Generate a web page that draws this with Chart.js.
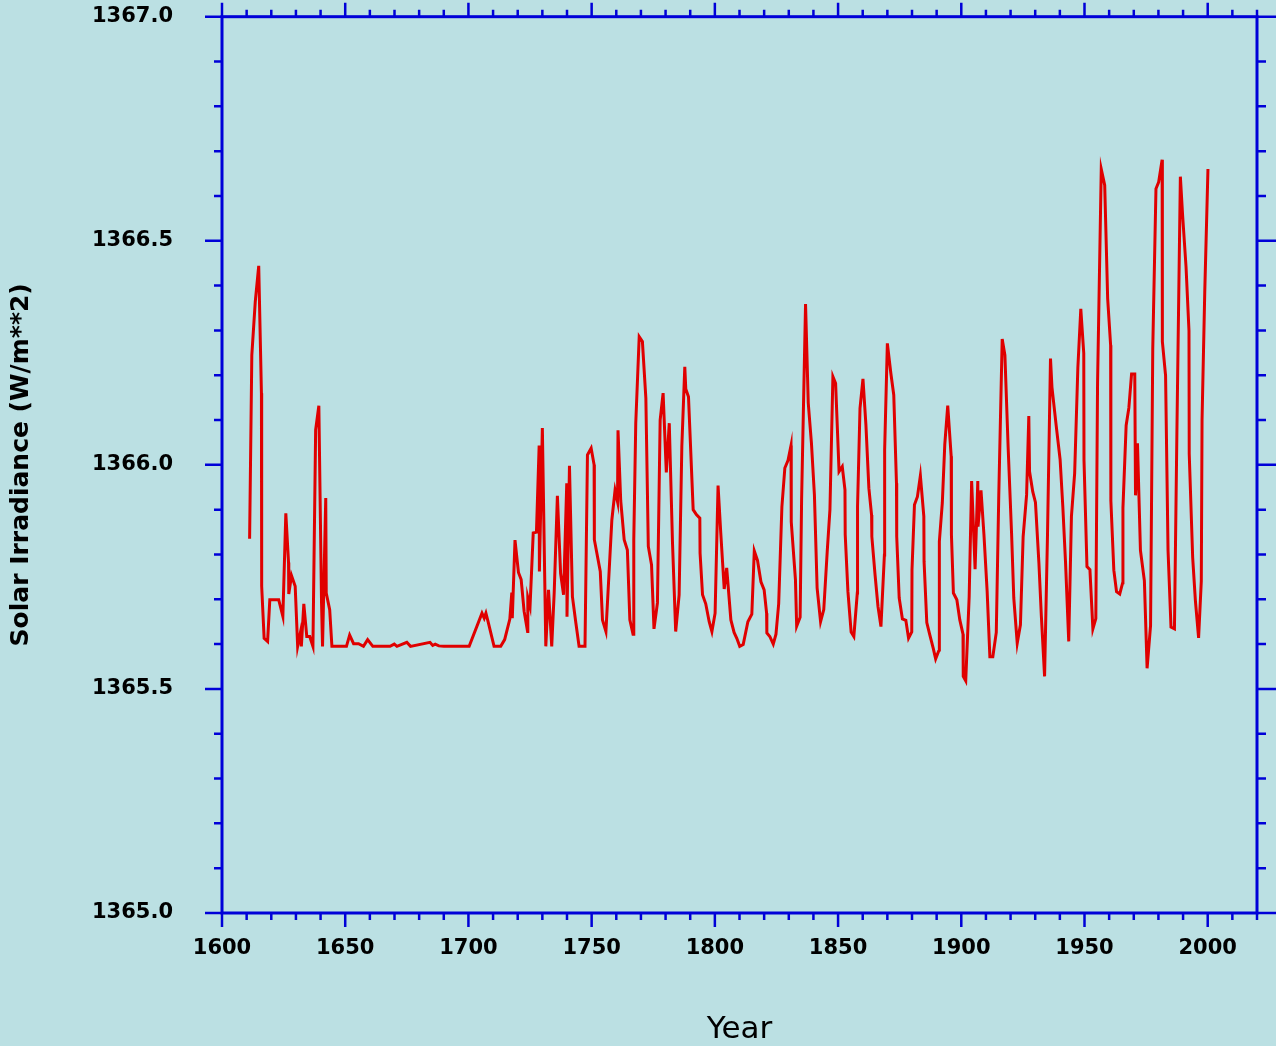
<!DOCTYPE html>
<html>
<head>
<meta charset="utf-8">
<title>Solar Irradiance</title>
<script src="https://cdn.jsdelivr.net/npm/chart.js@4.4.1/dist/chart.umd.min.js"></script>
<style>
  html, body { margin: 0; padding: 0; background: #bbe0e3; overflow: hidden; }
  #wrap { width: 1276px; height: 1046px; position: relative; }
</style>
</head>
<body>
<div id="wrap"><canvas id="solar-chart"></canvas></div>
<script>
// values (year, W/m**2)
const years = [
  1611.2, 1612.1, 1613.5, 1614.9, 1616.0, 1616.1, 1617.1, 1618.5, 1619.4, 1623.0,
  1624.7, 1625.9, 1627.0, 1627.1, 1628.2, 1629.7, 1630.7, 1631.8, 1632.2, 1633.2,
  1634.4, 1635.6, 1636.9, 1638.0, 1639.3, 1640.4, 1640.8, 1642.1, 1642.3, 1643.7,
  1644.6, 1650.5, 1651.8, 1653.4, 1655.4, 1657.4, 1659.1, 1661.2, 1668.2, 1669.9,
  1671.0, 1675.0, 1676.5, 1684.4, 1685.5, 1686.5, 1688.0, 1690.0, 1700.3, 1705.5,
  1706.4, 1707.1, 1707.9, 1710.4, 1713.1, 1714.7, 1716.8, 1717.6, 1717.8, 1718.9,
  1720.3, 1721.4, 1722.6, 1724.0, 1724.1, 1725.0, 1726.3, 1727.6, 1728.7, 1728.8,
  1730.0, 1731.4, 1732.5, 1733.8, 1734.8, 1736.1, 1737.4, 1738.6, 1739.9, 1740.0,
  1741.0, 1742.2, 1743.6, 1744.9, 1747.3, 1748.3, 1749.8, 1751.0, 1751.1, 1753.5,
  1754.4, 1755.8, 1758.2, 1759.5, 1760.5, 1760.7, 1761.8, 1763.2, 1764.5, 1765.5,
  1766.8, 1767.1, 1767.9, 1769.3, 1770.6, 1772.0, 1773.0, 1774.3, 1775.3, 1776.7,
  1777.8, 1779.0, 1780.3, 1781.5, 1782.8, 1784.1, 1785.5, 1786.6, 1787.8, 1788.2,
  1789.3, 1791.2, 1792.5, 1793.9, 1794.0, 1795.0, 1796.3, 1797.7, 1798.8, 1800.1,
  1801.3, 1802.4, 1803.8, 1804.8, 1806.5, 1807.8, 1808.9, 1810.1, 1811.5, 1813.4,
  1815.0, 1816.0, 1817.3, 1818.7, 1820.0, 1821.0, 1821.1, 1822.3, 1823.7, 1824.8,
  1825.9, 1827.2, 1828.4, 1829.7, 1830.9, 1831.0, 1832.7, 1833.2, 1834.6, 1835.2,
  1836.8, 1837.9, 1839.2, 1840.4, 1841.5, 1842.9, 1844.2, 1845.6, 1846.7, 1847.9,
  1849.0, 1850.4, 1851.7, 1852.8, 1852.9, 1854.0, 1855.3, 1856.4, 1857.8, 1857.9,
  1858.9, 1860.1, 1861.3, 1862.5, 1863.6, 1863.7, 1865.0, 1866.2, 1867.4, 1868.8,
  1868.9, 1870.0, 1871.4, 1872.6, 1873.7, 1873.8, 1874.8, 1876.1, 1877.5, 1878.6,
  1879.9, 1880.0, 1881.0, 1882.2, 1883.4, 1884.8, 1884.9, 1886.0, 1887.2, 1888.6,
  1889.6, 1891.0, 1891.1, 1892.3, 1893.3, 1894.5, 1895.9, 1896.0, 1896.8, 1898.2,
  1899.4, 1900.7, 1900.8, 1901.8, 1903.2, 1904.2, 1905.6, 1906.7, 1906.8, 1908.0,
  1909.2, 1910.5, 1911.6, 1912.8, 1914.2, 1915.2, 1916.6, 1917.7, 1919.0, 1920.4,
  1921.3, 1922.7, 1924.0, 1925.1, 1926.5, 1927.4, 1927.7, 1929.0, 1930.1, 1931.5,
  1932.5, 1933.8, 1935.0, 1936.2, 1936.8, 1938.5, 1940.1, 1941.2, 1942.3, 1943.6,
  1944.7, 1946.0, 1947.3, 1948.5, 1949.7, 1949.8, 1951.0, 1952.2, 1953.4, 1954.6,
  1955.3, 1956.8, 1958.2, 1959.4, 1960.6, 1960.7, 1961.9, 1963.0, 1964.3, 1965.5,
  1965.6, 1966.9, 1968.0, 1969.1, 1970.4, 1970.7, 1971.5, 1972.7, 1974.3, 1975.4,
  1976.8, 1977.7, 1979.0, 1980.1, 1981.5, 1981.6, 1982.9, 1983.9, 1985.1, 1986.5,
  1987.5, 1988.9, 1989.8, 1991.2, 1992.4, 1992.5, 1993.9, 1995.0, 1996.3, 1997.4,
  1997.7, 1998.8, 2000.1
];
const irradiance = [
  1365.835, 1366.245, 1366.364, 1366.444, 1366.160, 1365.729, 1365.613, 1365.606, 1365.699, 1365.699,
  1365.662, 1365.892, 1365.782, 1365.712, 1365.753, 1365.729, 1365.595, 1365.625, 1365.595, 1365.690,
  1365.617, 1365.617, 1365.595, 1366.078, 1366.132, 1365.690, 1365.595, 1365.926, 1365.714, 1365.677,
  1365.595, 1365.595, 1365.620, 1365.601, 1365.601, 1365.595, 1365.610, 1365.595, 1365.595, 1365.600,
  1365.595, 1365.604, 1365.595, 1365.604, 1365.597, 1365.600, 1365.596, 1365.595, 1365.595, 1365.669,
  1365.658, 1365.669, 1365.652, 1365.595, 1365.595, 1365.610, 1365.656, 1365.715, 1365.658, 1365.832,
  1365.760, 1365.744, 1365.673, 1365.628, 1365.704, 1365.684, 1365.848, 1365.850, 1366.043, 1365.762,
  1366.082, 1365.595, 1365.721, 1365.595, 1365.714, 1365.931, 1365.758, 1365.710, 1365.959, 1365.661,
  1365.998, 1365.706, 1365.647, 1365.595, 1365.595, 1366.022, 1366.037, 1366.000, 1365.833, 1365.762,
  1365.654, 1365.628, 1365.877, 1365.943, 1365.918, 1366.077, 1365.920, 1365.833, 1365.810, 1365.654,
  1365.622, 1365.833, 1366.093, 1366.286, 1366.275, 1366.149, 1365.818, 1365.777, 1365.634, 1365.692,
  1366.100, 1366.160, 1365.983, 1366.093, 1365.828, 1365.628, 1365.710, 1366.041, 1366.219, 1366.169,
  1366.152, 1365.900, 1365.889, 1365.881, 1365.803, 1365.710, 1365.690, 1365.650, 1365.628, 1365.669,
  1365.954, 1365.848, 1365.723, 1365.770, 1365.654, 1365.626, 1365.613, 1365.595, 1365.599, 1365.650,
  1365.667, 1365.808, 1365.787, 1365.739, 1365.721, 1365.669, 1365.625, 1365.617, 1365.600, 1365.622,
  1365.690, 1365.906, 1365.993, 1366.010, 1366.043, 1365.873, 1365.744, 1365.640, 1365.660, 1365.922,
  1366.359, 1366.138, 1366.048, 1365.933, 1365.725, 1365.650, 1365.677, 1365.807, 1365.900, 1366.197,
  1366.182, 1365.985, 1365.996, 1365.944, 1365.844, 1365.717, 1365.627, 1365.617, 1365.714, 1365.907,
  1366.126, 1366.192, 1366.089, 1365.948, 1365.888, 1365.840, 1365.755, 1365.684, 1365.639, 1365.799,
  1366.033, 1366.271, 1366.205, 1366.156, 1365.959, 1365.840, 1365.703, 1365.656, 1365.653, 1365.613,
  1365.627, 1365.766, 1365.911, 1365.929, 1365.976, 1365.885, 1365.784, 1365.648, 1365.621, 1365.591,
  1365.567, 1365.587, 1365.829, 1365.915, 1366.045, 1366.132, 1366.019, 1365.844, 1365.714, 1365.699,
  1365.654, 1365.622, 1365.528, 1365.518, 1365.706, 1365.964, 1365.767, 1365.964, 1365.862, 1365.943,
  1365.844, 1365.717, 1365.572, 1365.572, 1365.626, 1365.929, 1366.281, 1366.245, 1366.041, 1365.848,
  1365.703, 1365.602, 1365.643, 1365.840, 1365.933, 1366.109, 1365.985, 1365.940, 1365.916, 1365.781,
  1365.662, 1365.528, 1365.848, 1366.237, 1366.173, 1366.088, 1366.012, 1365.907, 1365.783, 1365.606,
  1365.885, 1365.981, 1366.216, 1366.348, 1366.249, 1366.010, 1365.773, 1365.766, 1365.634, 1365.657,
  1366.183, 1366.660, 1366.624, 1366.371, 1366.267, 1365.920, 1365.765, 1365.717, 1365.712, 1365.737,
  1365.904, 1366.088, 1366.127, 1366.203, 1366.203, 1365.932, 1366.048, 1365.809, 1365.741, 1365.546,
  1365.641, 1366.259, 1366.616, 1366.631, 1366.681, 1366.275, 1366.199, 1365.809, 1365.638, 1365.634,
  1366.076, 1366.643, 1366.558, 1366.442, 1366.299, 1366.024, 1365.793, 1365.697, 1365.614, 1365.741,
  1366.100, 1366.386, 1366.660
];
const xTickLabels = [1600, 1650, 1700, 1750, 1800, 1850, 1900, 1950, 2000];
const yTickLabels = ['1365.0', '1365.5', '1366.0', '1366.5', '1367.0'];

const axisBlue = '#0000d8';
const tickFont = { family: 'DejaVu Sans', size: 21, weight: 'bold' };

// box round the plot, with long ticks every 50 yrs / 0.5 and short ones in between
const frameTicks = {
  id: 'frameTicks',
  afterDatasetsDraw(chart) {
    const { ctx, chartArea: a, scales: { x, y } } = chart;
    ctx.save();
    ctx.strokeStyle = axisBlue;
    ctx.lineWidth = 2.5;
    ctx.beginPath();
    for (let v = 1600; v <= 2020; v += 10) {
      const px = x.getPixelForValue(v);
      const len = v % 50 === 0 ? 14 : 7;
      ctx.moveTo(px, a.bottom); ctx.lineTo(px, a.bottom + len);
      ctx.moveTo(px, a.top); ctx.lineTo(px, a.top - len);
    }
    for (let i = 0; i <= 20; i++) {
      const py = y.getPixelForValue(1365 + i / 10);
      const major = i % 5 === 0;
      ctx.moveTo(a.left, py); ctx.lineTo(a.left - (major ? 17 : 8), py);
      ctx.moveTo(a.right, py); ctx.lineTo(a.right + (major ? 19 : 9), py);
    }
    ctx.stroke();
    ctx.lineWidth = 3;
    ctx.strokeRect(a.left, a.top, a.right - a.left, a.bottom - a.top);
    ctx.restore();
  }
};

new Chart(document.getElementById('solar-chart'), {
  type: 'line',
  data: {
    datasets: [{
      label: 'Solar Irradiance',
      data: years.map((yr, i) => ({ x: yr, y: irradiance[i] })),
      borderColor: '#e00000',
      borderWidth: 3,
      pointRadius: 0,
      tension: 0,
      fill: false
    }]
  },
  options: {
    responsive: true,
    maintainAspectRatio: false,
    animation: false,
    devicePixelRatio: 1,
    layout: { padding: { top: 16.7, right: 19, left: 0, bottom: 0 } },
    plugins: {
      legend: { display: false },
      tooltip: { enabled: false }
    },
    scales: {
      x: {
        type: 'linear',
        min: 1600,
        max: 2020,
        afterBuildTicks: (s) => { s.ticks = xTickLabels.map(v => ({ value: v })); },
        afterFit: (s) => { s.height = 133; },
        // tick marks themselves come from the plugin; tickLength only spaces the labels
        grid: { display: false, drawTicks: true, tickLength: 23 },
        border: { display: false },
        ticks: {
          padding: 0,
          color: '#000',
          font: tickFont,
          maxRotation: 0,
          autoSkip: false,
          callback: (v) => String(v)
        },
        title: {
          display: true,
          text: 'Year',
          color: '#000',
          font: { family: 'DejaVu Sans', size: 31, lineHeight: 1 },
          padding: { top: 0, bottom: 1 }
        }
      },
      y: {
        type: 'linear',
        min: 1365,
        max: 1367,
        afterBuildTicks: (s) => { s.ticks = yTickLabels.map(t => ({ value: parseFloat(t) })); },
        afterFit: (s) => { s.width = 222; },
        grid: { display: false, drawTicks: true, tickLength: 49 },
        border: { display: false },
        ticks: {
          padding: 0,
          color: '#000',
          font: tickFont,
          autoSkip: false,
          callback: (v, i) => yTickLabels[i]
        },
        title: {
          display: true,
          text: 'Solar Irradiance (W/m**2)',
          color: '#000',
          font: { family: 'DejaVu Sans', size: 25, weight: 'bold' },
          padding: { top: 6, bottom: 0 }
        }
      }
    }
  },
  plugins: [frameTicks]
});
</script>
</body>
</html>
